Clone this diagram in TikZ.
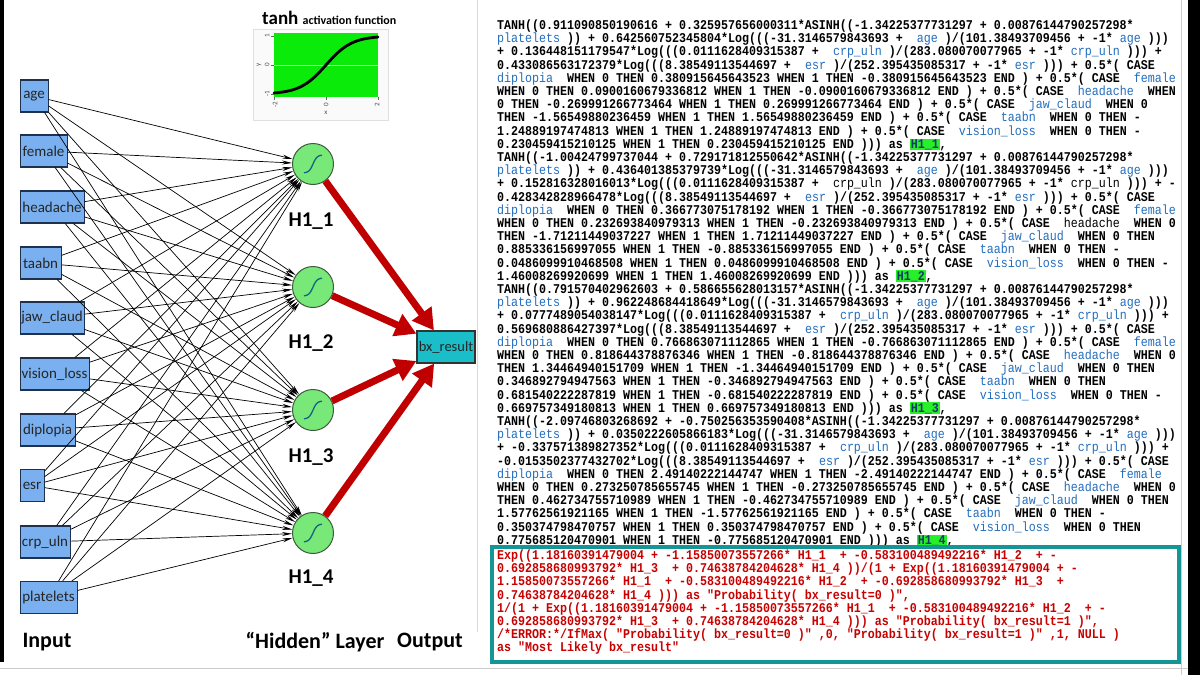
\documentclass[tikz,border=0pt]{standalone}
\usepackage{fontspec}
\setmainfont{Carlito}
\setmonofont{Liberation Mono}[FakeStretch=0.87]
\usetikzlibrary{arrows.meta}
\definecolor{inblue}{RGB}{122,176,240}
\definecolor{inborder}{RGB}{30,50,80}
\definecolor{hidgreen}{RGB}{120,232,120}
\definecolor{hidborder}{RGB}{60,90,60}
\definecolor{outteal}{RGB}{26,190,200}
\definecolor{arrred}{RGB}{192,0,0}
\definecolor{varblue}{RGB}{35,110,190}
\definecolor{hlgreen}{RGB}{40,240,40}
\definecolor{codered}{RGB}{200,0,0}
\definecolor{tealframe}{RGB}{20,150,150}
\definecolor{plotgreen}{RGB}{10,235,10}
\definecolor{icon}{RGB}{20,100,130}
\newcommand\vb[1]{\textcolor{varblue}{\mdseries#1}}
\newcommand\vk[1]{{\mdseries#1}}
\newcommand\hlt[1]{{\fboxsep=0.8pt\colorbox{hlgreen}{\textcolor{varblue!55!black}{#1}}}}
\newcommand\dq{\char34\relax}
\begin{document}
\begin{tikzpicture}[x=1pt,y=-1pt,
  inbox/.style={draw=inborder, fill=inblue, line width=1.1pt, minimum height=32pt, inner xsep=1pt, inner ysep=0pt, anchor=west, font=\fontsize{15}{15}\selectfont, text=black!85},
  hidnode/.style={circle, draw=hidborder, fill=hidgreen, line width=1pt, minimum size=41pt, inner sep=0pt},
  outbox/.style={draw=black!80, fill=outteal, line width=1.1pt, minimum width=58pt, minimum height=32pt, inner sep=0.5pt, font=\fontsize{14.5}{14.5}\selectfont, text=black!85},
  conn/.style={draw=black, line width=0.7pt, -{Stealth[length=10pt,width=4pt]}},
  redarr/.style={draw=arrred, line width=7pt, -{Triangle[length=21pt,width=23pt]}},
  hlabel/.style={font=\bfseries\fontsize{21}{21}\selectfont},
  layerlabel/.style={font=\bfseries\fontsize{22}{22}\selectfont},
  code/.style={font=\ttfamily\bfseries\fontsize{13.4}{13.2}\selectfont, align=left, inner sep=0pt, anchor=north west},
  ticklab/.style={font=\fontsize{7}{7}\selectfont, inner sep=0pt, text=black!70},
  sigicon/.style={draw=icon, line width=1.3pt}
]
\useasboundingbox (0,0) rectangle (1200,675);
\fill[white] (0,0) rectangle (1200,675);
% frame
\fill[black] (0,0) rectangle (4,662);
\draw[black!15, line width=0.8pt] (477,0) -- (477,632);
\draw[black!20, line width=0.8pt] (1181,0) -- (1181,675);
\fill[black] (1188,0) rectangle (1200,675);
\draw[black!20, line width=0.8pt] (0,668) -- (1188,668);

% input nodes
\node[inbox, minimum width=28pt] (age) at (19.5,96) {age};
\node[inbox, minimum width=47pt] (female) at (19.5,151) {female};
\node[inbox, minimum width=64pt] (headache) at (19.5,207) {headache};
\node[inbox, minimum width=41pt] (taabn) at (19.5,263) {taabn};
\node[inbox, minimum width=64pt] (jaw) at (19.5,318) {jaw\_claud};
\node[inbox, minimum width=69pt] (vision) at (19.5,374) {vision\_loss};
\node[inbox, minimum width=55pt] (diplopia) at (19.5,430) {diplopia};
\node[inbox, minimum width=24pt] (esr) at (19.5,485.5) {esr};
\node[inbox, minimum width=50pt] (crp) at (19.5,542) {crp\_uln};
\node[inbox, minimum width=57pt] (platelets) at (19.5,597.5) {platelets};

% hidden nodes
\node[hidnode] (h1) at (313,164) {};
\node[hidnode] (h2) at (313,287) {};
\node[hidnode] (h3) at (313,410) {};
\node[hidnode] (h4) at (313,533) {};
\foreach \n in {h1,h2,h3,h4}
  \draw[sigicon, shift={(\n)}] plot[domain=-1:1, samples=25, smooth] ({9*\x},{-9*tanh(2.2*\x)});

% output
\node[outbox] (out) at (446,347) {bx\_result};

% connectors
\foreach \i in {age,female,headache,taabn,jaw,vision,diplopia,esr,crp,platelets}
  \foreach \h in {h1,h2,h3,h4}
    \draw[conn] (\i) -- (\h);
\foreach \h in {h1,h2,h3,h4}
  \draw[redarr] (\h) -- (out);

% labels
\node[hlabel] (l1) at (311,221) {H1\_1};
\node[hlabel] (l2) at (311,343) {H1\_2};
\node[hlabel] (l3) at (311,457) {H1\_3};
\node[hlabel] (l4) at (311,578) {H1\_4};
\node[layerlabel, anchor=west] (linput) at (19,642) {Input};
\node[layerlabel] (lhidden) at (315,642) {``Hidden'' Layer};
\node[layerlabel] (loutput) at (430,642) {Output};

% tanh inset
\node[anchor=base west, inner sep=0pt] (tanhtitle) at (262,24) {\bfseries\fontsize{19}{19}\selectfont tanh \fontsize{12}{12}\selectfont activation function};
\draw[draw=black!12, fill=black!2] (253,29) rectangle (388,120);
\fill[plotgreen] (274,33) rectangle (378,97);
\draw[white!65!plotgreen, line width=0.8pt] (274,65) -- (378,65);
\draw[line width=2.8pt, line cap=round] plot[domain=-2:2, samples=60, smooth] ({326+26*\x},{65-29*tanh(\x)});
\draw[black!60, line width=0.5pt] (271,36) -- (274,36) (271,65) -- (274,65) (271,94) -- (274,94)
  (274,97) -- (274,100) (326,97) -- (326,100) (378,97) -- (378,100);
\node[ticklab, rotate=90] (ty1) at (267,36) {1};
\node[ticklab, rotate=90] (ty0) at (267,65) {0};
\node[ticklab, rotate=90] (tym) at (267,94) {-1};
\node[ticklab, rotate=90] (tyl) at (259,65) {y};
\node[ticklab, rotate=90] (txm) at (275,105) {-2};
\node[ticklab, rotate=90] (tx0) at (326,105) {0};
\node[ticklab, rotate=90] (tx2) at (377,105) {2};
\node[ticklab] (txl) at (326,113) {x};

% code text
\node[code] (sqlhidden) at (497,19.5) {%
TANH((0.911090850190616 + 0.325957656000311*ASINH((-1.34225377731297 + 0.00876144790257298*\\
\vb{platelets} )) + 0.642560752345804*Log(((-31.3146579843693 +~ \vb{age} )/(101.38493709456 + -1* \vb{age} )))\\
+ 0.136448151179547*Log(((0.0111628409315387 +~ \vb{crp\_uln} )/(283.080070077965 + -1* \vb{crp\_uln} ))) +\\
0.433086563172379*Log(((8.38549113544697 +~ \vb{esr} )/(252.395435085317 + -1* \vb{esr} ))) + 0.5*( CASE\\
\vb{diplopia}~ WHEN 0 THEN 0.380915645643523 WHEN 1 THEN -0.380915645643523 END ) + 0.5*( CASE~ \vb{female}\\
WHEN 0 THEN 0.0900160679336812 WHEN 1 THEN -0.0900160679336812 END ) + 0.5*( CASE~ \vb{headache}~ WHEN\\
0 THEN -0.269991266773464 WHEN 1 THEN 0.269991266773464 END ) + 0.5*( CASE~ \vb{jaw\_claud}~ WHEN 0\\
THEN -1.56549880236459 WHEN 1 THEN 1.56549880236459 END ) + 0.5*( CASE~ \vb{taabn}~ WHEN 0 THEN -\\
1.24889197474813 WHEN 1 THEN 1.24889197474813 END ) + 0.5*( CASE~ \vb{vision\_loss}~ WHEN 0 THEN -\\
0.230459415210125 WHEN 1 THEN 0.230459415210125 END ))) as \hlt{H1\_1},\\
TANH((-1.00424799737044 + 0.729171812550642*ASINH((-1.34225377731297 + 0.00876144790257298*\\
\vb{platelets} )) + 0.436401385379739*Log(((-31.3146579843693 +~ \vb{age} )/(101.38493709456 + -1* \vb{age} )))\\
+ 0.152816328016013*Log(((0.0111628409315387 +~ \vk{crp\_uln} )/(283.080070077965 + -1* \vk{crp\_uln} ))) + -\\
0.428342828966478*Log(((8.38549113544697 +~ \vb{esr} )/(252.395435085317 + -1* \vb{esr} ))) + 0.5*( CASE\\
\vb{diplopia}~ WHEN 0 THEN 0.366773075178192 WHEN 1 THEN -0.366773075178192 END ) + 0.5*( CASE~ \vb{female}\\
WHEN 0 THEN 0.232693840979313 WHEN 1 THEN -0.232693840979313 END ) + 0.5*( CASE~ \vk{headache}~ WHEN 0\\
THEN -1.71211449037227 WHEN 1 THEN 1.71211449037227 END ) + 0.5*( CASE~ \vb{jaw\_claud}~ WHEN 0 THEN\\
0.885336156997055 WHEN 1 THEN -0.885336156997055 END ) + 0.5*( CASE~ \vb{taabn}~ WHEN 0 THEN -\\
0.0486099910468508 WHEN 1 THEN 0.0486099910468508 END ) + 0.5*( CASE~ \vb{vision\_loss}~ WHEN 0 THEN -\\
1.46008269920699 WHEN 1 THEN 1.46008269920699 END ))) as \hlt{H1\_2},\\
TANH((0.791570402962603 + 0.586655628013157*ASINH((-1.34225377731297 + 0.00876144790257298*\\
\vb{platelets} )) + 0.962248684418649*Log(((-31.3146579843693 +~ \vb{age} )/(101.38493709456 + -1* \vb{age} )))\\
+ 0.0777489054038147*Log(((0.0111628409315387 +~ \vb{crp\_uln} )/(283.080070077965 + -1* \vb{crp\_uln} ))) +\\
0.569680886427397*Log(((8.38549113544697 +~ \vb{esr} )/(252.395435085317 + -1* \vb{esr} ))) + 0.5*( CASE\\
\vb{diplopia}~ WHEN 0 THEN 0.766863071112865 WHEN 1 THEN -0.766863071112865 END ) + 0.5*( CASE~ \vb{female}\\
WHEN 0 THEN 0.818644378876346 WHEN 1 THEN -0.818644378876346 END ) + 0.5*( CASE~ \vb{headache}~ WHEN 0\\
THEN 1.34464940151709 WHEN 1 THEN -1.34464940151709 END ) + 0.5*( CASE~ \vb{jaw\_claud}~ WHEN 0 THEN\\
0.346892794947563 WHEN 1 THEN -0.346892794947563 END ) + 0.5*( CASE~ \vb{taabn}~ WHEN 0 THEN\\
0.681540222287819 WHEN 1 THEN -0.681540222287819 END ) + 0.5*( CASE~ \vb{vision\_loss}~ WHEN 0 THEN -\\
0.669757349180813 WHEN 1 THEN 0.669757349180813 END ))) as \hlt{H1\_3},\\
TANH((-2.09746803268692 + -0.750256353590408*ASINH((-1.34225377731297 + 0.00876144790257298*\\
\vb{platelets} )) + 0.0350222605866183*Log(((-31.3146579843693 +~ \vb{age} )/(101.38493709456 + -1* \vb{age} )))\\
+ -0.337571389827352*Log(((0.0111628409315387 +~ \vb{crp\_uln} )/(283.080070077965 + -1* \vb{crp\_uln} ))) +\\
-0.0153502377432702*Log(((8.38549113544697 +~ \vb{esr} )/(252.395435085317 + -1* \vb{esr} ))) + 0.5*( CASE\\
\vb{diplopia}~ WHEN 0 THEN 2.49140222144747 WHEN 1 THEN -2.49140222144747 END ) + 0.5*( CASE~ \vb{female}\\
WHEN 0 THEN 0.273250785655745 WHEN 1 THEN -0.273250785655745 END ) + 0.5*( CASE~ \vb{headache}~ WHEN 0\\
THEN 0.462734755710989 WHEN 1 THEN -0.462734755710989 END ) + 0.5*( CASE~ \vb{jaw\_claud}~ WHEN 0 THEN\\
1.57762561921165 WHEN 1 THEN -1.57762561921165 END ) + 0.5*( CASE~ \vb{taabn}~ WHEN 0 THEN -\\
0.350374798470757 WHEN 1 THEN 0.350374798470757 END ) + 0.5*( CASE~ \vb{vision\_loss}~ WHEN 0 THEN\\
0.775685120470901 WHEN 1 THEN -0.775685120470901 END ))) as \hlt{H1\_4},};

\draw[tealframe, line width=3.5pt] (492,547) rectangle (1179,662);
\node[code, text=codered] (sqlout) at (497,549.5) {%
Exp((1.18160391479004 + -1.15850073557266* H1\_1~ + -0.583100489492216* H1\_2~ + -\\
0.692858680993792* H1\_3~ + 0.74638784204628* H1\_4 ))/(1 + Exp((1.18160391479004 + -\\
1.15850073557266* H1\_1~ + -0.583100489492216* H1\_2~ + -0.692858680993792* H1\_3~ +\\
0.74638784204628* H1\_4 ))) as \dq Probability( bx\_result=0 )\dq,\\
1/(1 + Exp((1.18160391479004 + -1.15850073557266* H1\_1~ + -0.583100489492216* H1\_2~ + -\\
0.692858680993792* H1\_3~ + 0.74638784204628* H1\_4 ))) as \dq Probability( bx\_result=1 )\dq,\\
/*ERROR:*/IfMax( \dq Probability( bx\_result=0 )\dq\ ,0, \dq Probability( bx\_result=1 )\dq\ ,1, NULL )\\
as \dq Most Likely bx\_result\dq};
\end{tikzpicture}
\end{document}
